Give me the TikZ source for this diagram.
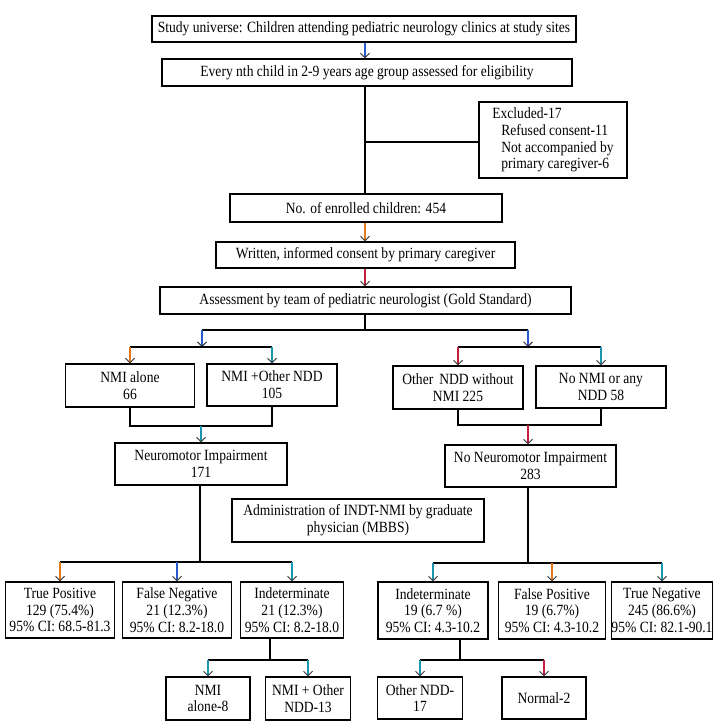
\documentclass[tikz,border=0pt]{standalone}
\usepackage{fontspec}
\setmainfont{Liberation Serif}[FakeStretch=0.87]
\usetikzlibrary{arrows.meta,calc}
\definecolor{cOr}{RGB}{225,120,25}
\definecolor{cBl}{RGB}{40,90,205}
\definecolor{cTe}{RGB}{25,150,175}
\definecolor{cRe}{RGB}{195,30,60}
\begin{document}
\begin{tikzpicture}[x=1pt,y=-1pt,
  box/.style={draw=black,line width=1.1pt,inner sep=0pt,align=center,font=\fontsize{15.6}{16.8}\selectfont},
  ln/.style={draw=black,line width=1.1pt},
  arr/.style={line width=1.5pt,draw=#1,-{Straight Barb[length=4.5pt,width=9pt,color=black!80,line width=1pt]}}]
\useasboundingbox (0,0) rectangle (725,728);
% boxes
\node[box,minimum width=424pt,minimum height=26pt] (b1) at (364,29) {Study universe: Children attending pediatric neurology clinics at study sites};
\node[box,minimum width=410pt,minimum height=27pt] (b2) at (367,72.5) {Every nth child in 2-9 years age group assessed for eligibility};
\node[box,minimum width=148pt,minimum height=76pt,align=left] (ex) at (553,140) {Excluded-17\\\hspace*{9pt}Refused consent-11\\\hspace*{9pt}Not accompanied by\\\hspace*{9pt}primary caregiver-6};
\node[box,minimum width=272pt,minimum height=28pt] (b3) at (366,208) {No. of enrolled children: 454};
\node[box,minimum width=299pt,minimum height=26pt] (b4) at (365.5,255) {Written, informed consent by primary caregiver};
\node[box,minimum width=411pt,minimum height=27pt] (b5) at (365.5,300.5) {Assessment by team of pediatric neurologist (Gold Standard)};
\node[box,minimum width=129pt,minimum height=43pt] (nmi) at (130,385.5) {NMI alone\\66};
\node[box,minimum width=130pt,minimum height=42pt] (nmio) at (272,385) {NMI +Other NDD\\105};
\node[box,minimum width=130pt,minimum height=43pt] (ondd) at (458,387.5) {Other\, NDD without\\NMI 225};
\node[box,minimum width=130pt,minimum height=42pt] (nonmi) at (601,387) {No NMI or any\\NDD 58};
\node[box,minimum width=172pt,minimum height=42pt] (nm) at (201,464) {Neuromotor Impairment\\171};
\node[box,minimum width=171pt,minimum height=42pt] (nonm) at (530.5,466) {No Neuromotor Impairment\\283};
\node[box,minimum width=252pt,minimum height=43pt] (adm) at (358,520.5) {Administration of INDT-NMI by graduate\\physician (MBBS)};
\node[box,minimum width=109pt,minimum height=56pt] (tp) at (60,610) {True Positive\\129 (75.4\%)\\95\% CI: 68.5-81.3};
\node[box,minimum width=109pt,minimum height=56pt] (fn) at (177,610) {False Negative\\21 (12.3\%)\\95\% CI: 8.2-18.0};
\node[box,minimum width=103pt,minimum height=56pt] (i1) at (292,610) {Indeterminate\\21 (12.3\%)\\95\% CI: 8.2-18.0};
\node[box,minimum width=110pt,minimum height=57pt] (i2) at (433,610.5) {Indeterminate\\19 (6.7 \%)\\95\% CI: 4.3-10.2};
\node[box,minimum width=107pt,minimum height=57pt] (fp) at (552,610.5) {False Positive\\19 (6.7\%)\\95\% CI: 4.3-10.2};
\node[box,minimum width=96pt,minimum height=57pt] (tn) at (662,610.5) {True Negative\\245 (86.6\%)\\95\% CI: 82.1-90.1};
\node[box,minimum width=84pt,minimum height=43pt] (n8) at (208,698.5) {NMI\\alone-8};
\node[box,minimum width=85pt,minimum height=43pt] (n13) at (308,698.5) {NMI + Other\\NDD-13};
\node[box,minimum width=85pt,minimum height=42pt] (o17) at (420,698) {Other NDD-\\17};
\node[box,minimum width=84pt,minimum height=42pt] (nr2) at (544,698) {Normal-2};
% junction coordinates
\coordinate (jx) at (365,142);
\coordinate (jT) at (365,330);
\coordinate (jTL) at (202,330);
\coordinate (jTR) at (528,330);
\coordinate (jL) at (202,347);
\coordinate (jR) at (528,347);
\coordinate (kL) at (201,426);
\coordinate (kR) at (528,425);
\coordinate (mL) at (200,562);
\coordinate (mR) at (528,563);
\coordinate (d1) at (270,660);
\coordinate (d2) at (460,660);
% connectors
\draw[arr=cBl] (b1.south -| jx) -- (b2.north -| jx);
\draw[ln] (b2.south -| jx) -- (b3.north -| jx);
\draw[ln] (jx) -- (ex.west |- jx);
\draw[arr=cOr] (b3.south -| jx) -- (b4.north -| jx);
\draw[arr=cRe] (b4.south -| jx) -- (b5.north -| jx);
\draw[ln] (b5.south -| jT) -- (jT);
\draw[ln] (jTL) -- (jTR);
\draw[arr=cBl] (jTL) -- (jL);
\draw[arr=cBl] (jTR) -- (jR);
\draw[ln] (nmi.north |- jL) -- (nmio.north |- jL);
\draw[ln] (ondd.north |- jR) -- (nonmi.north |- jR);
\draw[arr=cOr] (nmi.north |- jL) -- (nmi.north);
\draw[arr=cTe] (nmio.north |- jL) -- (nmio.north);
\draw[arr=cRe] (ondd.north |- jR) -- (ondd.north);
\draw[arr=cTe] (nonmi.north |- jR) -- (nonmi.north);
\draw[ln] (nmi.south) |- (kL) -| (nmio.south);
\draw[ln] (ondd.south) |- (kR) -| (nonmi.south);
\draw[arr=cTe] (kL) -- (kL |- nm.north);
\draw[arr=cRe] (kR) -- (kR |- nonm.north);
\draw[ln] (mL |- nm.south) -- (mL);
\draw[ln] (tp.north |- mL) -- (i1.north |- mL);
\draw[arr=cOr] (tp.north |- mL) -- (tp.north);
\draw[arr=cBl] (fn.north |- mL) -- (fn.north);
\draw[arr=cTe] (i1.north |- mL) -- (i1.north);
\draw[ln] (mR |- nonm.south) -- (mR);
\draw[ln] (i2.north |- mR) -- (tn.north |- mR);
\draw[arr=cTe] (i2.north |- mR) -- (i2.north);
\draw[arr=cOr] (fp.north |- mR) -- (fp.north);
\draw[arr=cTe] (tn.north |- mR) -- (tn.north);
\draw[ln] (d1 |- i1.south) -- (d1);
\draw[ln] (n8.north |- d1) -- (n13.north |- d1);
\draw[arr=cTe] (n8.north |- d1) -- (n8.north);
\draw[arr=cTe] (n13.north |- d1) -- (n13.north);
\draw[ln] (d2 |- i2.south) -- (d2);
\draw[ln] (o17.north |- d2) -- (nr2.north |- d2);
\draw[arr=cTe] (o17.north |- d2) -- (o17.north);
\draw[arr=cRe] (nr2.north |- d2) -- (nr2.north);
\end{tikzpicture}
\end{document}
